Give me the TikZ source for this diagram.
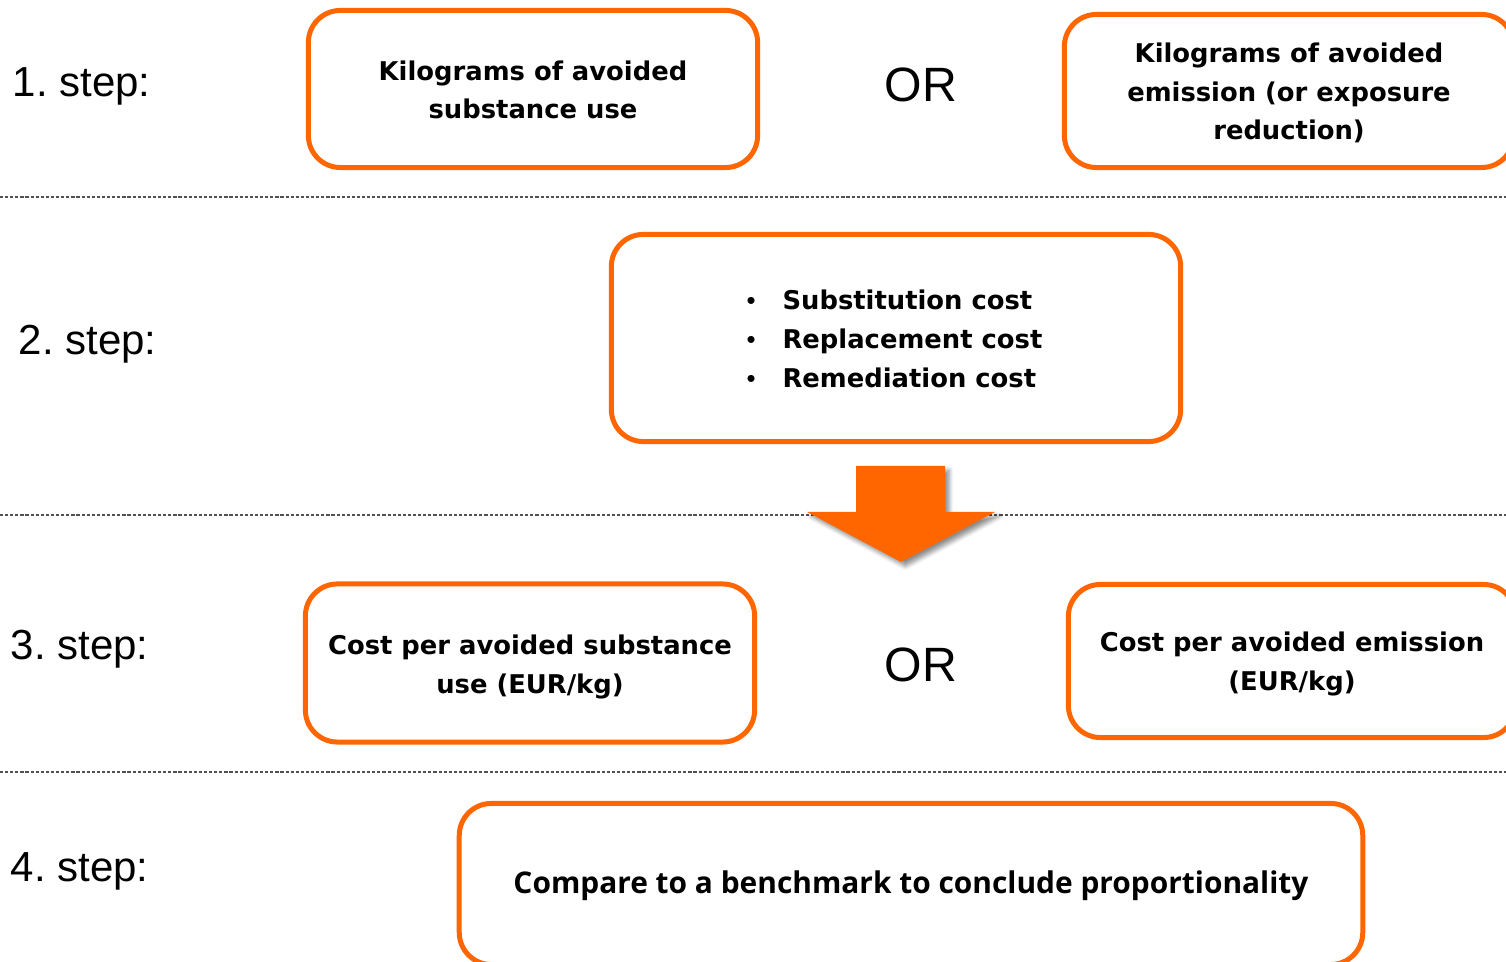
\documentclass[tikz,border=0pt]{standalone}
\usepackage{fontspec}
\setmainfont{Liberation Sans}
\newfontfamily\boxfont{DejaVu Sans}
\newfontfamily\benchfont{Open Sans}
\newfontfamily\bulfont{Liberation Sans}
\usetikzlibrary{shadows.blur}
\definecolor{accent}{RGB}{255,102,0}
\definecolor{rule}{RGB}{80,80,80}
\tikzset{
  stepbox/.style={draw=accent, line width=1.42pt, rounded corners=0.32cm,
    fill=white, inner sep=0pt},
  boxtext/.style={inner sep=0pt, align=center,
    font=\boxfont\bfseries\fontsize{7.34}{10.95}\selectfont},
  steplabel/.style={anchor=west, inner sep=0pt, font=\fontsize{11.95}{14}\selectfont},
  ortext/.style={inner sep=0pt, font=\fontsize{13.7}{16}\selectfont},
  divider/.style={draw=rule, line width=0.4pt, dash pattern=on 0.9pt off 0.55pt},
}
\newcommand{\bul}{\makebox[10.2pt][l]{\bulfont\mdseries•}}
\begin{document}
\frenchspacing
\begin{tikzpicture}[x=0.01cm, y=-0.01cm]
\useasboundingbox (0,0) rectangle (1506,962);
\clip (0,0) rectangle (1506,962);

% row dividers
\coordinate (d1l) at (0,197);   \coordinate (d1r) at (1506,197);
\coordinate (d2l) at (0,515);   \coordinate (d2r) at (1506,515);
\coordinate (d3l) at (0,772);   \coordinate (d3r) at (1506,772);
\draw[divider] (d1l) -- (d1r);
\draw[divider] (d2l) -- (d2r);
\draw[divider] (d3l) -- (d3r);

% step labels
\node[steplabel] (s1) at (12,86)  {1. step:};
\node[steplabel] (s2) at (18,344) {2. step:};
\node[steplabel] (s3) at (10,649) {3. step:};
\node[steplabel] (s4) at (10,871) {4. step:};

% step 1
\node[stepbox, minimum width=4.49cm, minimum height=1.57cm] (kgsub) at (533,89) {};
\node[boxtext] (kgsubtxt) at (533,90) {Kilograms of avoided\\substance use};
\node[ortext] (or1) at (921,85) {OR};
\node[stepbox, minimum width=4.49cm, minimum height=1.53cm] (kgemi) at (1289,91) {};
\node[boxtext] (kgemitxt) at (1289,93) {Kilograms of avoided\\emission (or exposure\\reduction)};

% step 2
\node[stepbox, minimum width=5.69cm, minimum height=2.07cm] (costs) at (896,338) {};
\node[anchor=west, inner sep=0pt, align=left,
      font=\boxfont\bfseries\fontsize{7.34}{11.1}\selectfont] (costlist) at (746,339)
  {\bul Substitution cost\\\bul Replacement cost\\\bul Remediation cost};

% down arrow between step 2 and step 3
\fill[accent, blur shadow={shadow xshift=1.2pt, shadow yshift=-1.2pt,
      shadow opacity=45, shadow blur steps=6, shadow blur radius=1.2pt}]
  (856,466) -- (945,466) -- (945,512) -- (995,512) -- (901,562)
  -- (807,512) -- (856,512) -- cycle;

% step 3
\node[stepbox, minimum width=4.49cm, minimum height=1.58cm] (costsub) at (530,663) {};
\node[boxtext] (costsubtxt) at (530,667) {Cost per avoided substance\\use (EUR/kg)};
\node[ortext] (or3) at (921,665) {OR};
\node[stepbox, minimum width=4.47cm, minimum height=1.53cm] (costemi) at (1292,661) {};
\node[boxtext] (costemitxt) at (1292,664) {Cost per avoided emission\\(EUR/kg)};

% step 4
\node[stepbox, minimum width=9.03cm, minimum height=1.61cm] (bench) at (911,884) {};
\node[inner sep=0pt, font=\benchfont\bfseries\fontsize{8.5}{10}\selectfont] (benchtxt)
  at (911,886) {Compare to a benchmark to conclude proportionality};
\end{tikzpicture}
\end{document}
